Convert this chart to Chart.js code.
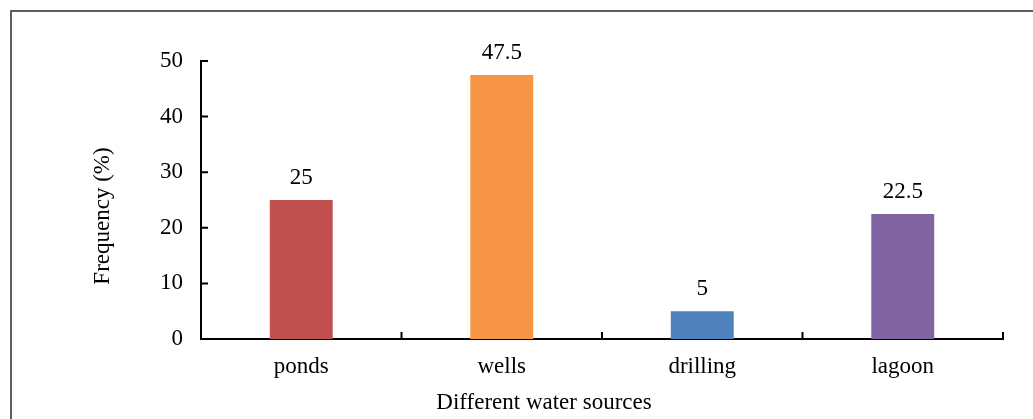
<!DOCTYPE html>
<html lang="en">
<head>
  <meta charset="UTF-8" />
  <title>Different water sources</title>
  <script src="https://cdn.jsdelivr.net/npm/chart.js"></script>
  <style>
    html, body { margin: 0; padding: 0; background: #fff; }
    .wrap { width: 1033px; height: 419px; }
  </style>
</head>
<body>
  <div class="wrap">
    <canvas id="chartFontes" width="1033" height="419"></canvas>
  </div>
  <script>
    // dados
    const fontes = ['ponds', 'wells', 'drilling', 'lagoon'];
    const frequencias = [25, 47.5, 5, 22.5];
    const cores = ['#C0504D', '#F79646', '#4F81BD', '#8064A2'];
    const ticksY = [0, 10, 20, 30, 40, 50];

    const fonte = '"Liberation Serif", "Times New Roman", serif';

    // moldura, ticks internos, titulos e rotulos dos valores
    const extras = {
      id: 'extras',
      afterDraw(chart) {
        const ctx = chart.ctx;
        const x = chart.scales.x;
        const y = chart.scales.y;
        ctx.save();

        // moldura cinza
        ctx.strokeStyle = '#5f5f5f';
        ctx.lineWidth = 2;
        ctx.beginPath();
        ctx.moveTo(11, 419);
        ctx.lineTo(11, 11);
        ctx.lineTo(1033, 11);
        ctx.stroke();

        // ticks
        ctx.strokeStyle = '#000';
        ctx.lineWidth = 2;
        ctx.beginPath();
        ticksY.forEach(v => {
          const py = y.getPixelForValue(v);
          ctx.moveTo(x.left, py);
          ctx.lineTo(x.left + 7, py);
        });
        const passo = (x.right - x.left) / fontes.length;
        for (let i = 1; i <= fontes.length; i++) {
          const px = x.left + passo * i;
          ctx.moveTo(px, y.bottom);
          ctx.lineTo(px, y.bottom - 7);
        }
        ctx.stroke();

        // valores em cima das barras
        ctx.fillStyle = '#000';
        ctx.font = '23px ' + fonte;
        ctx.textAlign = 'center';
        ctx.textBaseline = 'middle';
        chart.getDatasetMeta(0).data.forEach((bar, i) => {
          ctx.fillText(String(frequencias[i]), bar.x, bar.y - 22);
        });

        // titulo eixo x
        ctx.fillText('Different water sources', 544, 403);

        // titulo eixo y
        ctx.translate(103, 216);
        ctx.rotate(-Math.PI / 2);
        ctx.fillText('Frequency (%)', 0, 0);
        ctx.restore();
      }
    };

    new Chart(document.getElementById('chartFontes'), {
      type: 'bar',
      data: {
        labels: fontes,
        datasets: [{
          data: frequencias,
          backgroundColor: cores,
          borderWidth: 0,
          barPercentage: 0.314,
          categoryPercentage: 1
        }]
      },
      options: {
        responsive: false,
        animation: false,
        layout: {
          padding: { top: 61, right: 30, left: 0, bottom: 0 }
        },
        plugins: {
          legend: { display: false },
          tooltip: { enabled: false }
        },
        scales: {
          x: {
            grid: { display: false, drawTicks: false },
            border: { display: true, color: '#000', width: 2 },
            ticks: {
              color: '#000',
              padding: 14,
              font: { family: fonte, size: 23 }
            },
            afterFit(scale) { scale.height = 80; }
          },
          y: {
            min: 0,
            max: 50,
            grid: { display: false, drawTicks: false },
            border: { display: true, color: '#000', width: 2 },
            ticks: {
              stepSize: 10,
              color: '#000',
              padding: 18,
              font: { family: fonte, size: 23 }
            },
            afterFit(scale) { scale.width = 201; }
          }
        }
      },
      plugins: [extras]
    });
  </script>
</body>
</html>
